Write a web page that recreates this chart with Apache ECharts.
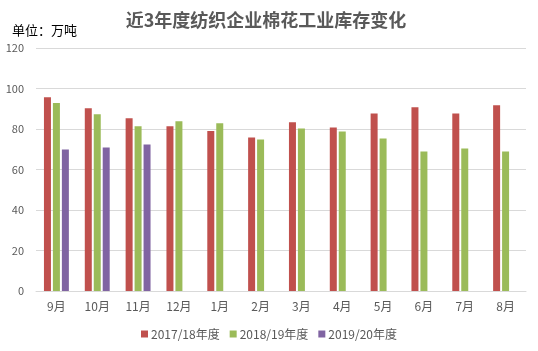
<!DOCTYPE html>
<html lang="zh">
<head>
  <meta charset="UTF-8">
  <title>近3年度纺织企业棉花工业库存变化</title>
  <script src="https://cdn.jsdelivr.net/npm/echarts@6/dist/echarts.min.js"></script>
  <style>
    html, body { margin: 0; padding: 0; background: #fff; }
    #wrap { width: 538px; height: 351px; }
  </style>
</head>
<body>
<div id="wrap"></div>
<script>
  // 数据
  const months = ["9月", "10月", "11月", "12月", "1月", "2月", "3月", "4月", "5月", "6月", "7月", "8月"]
  const seasons = ["2017/18年度", "2018/19年度", "2019/20年度"]
  const y1718 = [95.7, 90.2, 85.3, 81.3, 79.0, 75.8, 83.3, 80.8, 87.7, 90.7, 87.7, 91.7]
  const y1819 = [92.9, 87.3, 81.3, 83.8, 82.8, 74.8, 80.3, 78.8, 75.3, 68.9, 70.4, 68.9]
  const y1920 = [69.9, 70.9, 72.4, null, null, null, null, null, null, null, null, null]
  const yTicks = [0, 20, 40, 60, 80, 100, 120]

  const colors = ["#C0504D", "#9BBB59", "#8064A2"]
  const font = "'Noto Sans CJK SC', 'Noto Sans', sans-serif"

  const chart = echarts.init(document.querySelector("#wrap"))

  const ops = {
    color: colors,
    animation: false,
    title: [
      {
        text: "近3年度纺织企业棉花工业库存变化",
        left: 261,
        top: 6,
        textAlign: "center",
        textStyle: { fontSize: 18, fontWeight: "bold", color: "#595959", fontFamily: font }
      },
      {
        text: "单位：万吨",
        left: 7,
        top: 19,
        textStyle: { fontSize: 13, fontWeight: "normal", color: "#000", fontFamily: font }
      }
    ],
    grid: { left: 36, right: 12, top: 48, bottom: 60 },
    legend: {
      bottom: 6,
      left: "center",
      itemWidth: 7,
      itemHeight: 7,
      itemGap: 10,
      icon: "rect",
      textStyle: { fontSize: 12, color: "#595959", fontFamily: font, padding: [0, 0, 0, -2] },
      data: seasons
    },
    xAxis: {
      type: "category",
      data: months,
      axisLine: { lineStyle: { color: "#d9d9d9" } },
      axisTick: { show: false },
      axisLabel: { fontSize: 12, color: "#595959", margin: 9, fontFamily: font }
    },
    yAxis: {
      type: "value",
      min: yTicks[0],
      max: yTicks[yTicks.length - 1],
      interval: 20,
      axisLine: { show: false },
      axisTick: { show: false },
      splitLine: { lineStyle: { color: "#d9d9d9" } },
      axisLabel: { fontSize: 11, color: "#595959", margin: 12, fontFamily: font }
    },
    series: [y1718, y1819, y1920].map((d, i) => ({
      name: seasons[i],
      type: "bar",
      data: d,
      barWidth: 7,
      barGap: "28%"
    }))
  }

  chart.setOption(ops)
</script>
</body>
</html>
